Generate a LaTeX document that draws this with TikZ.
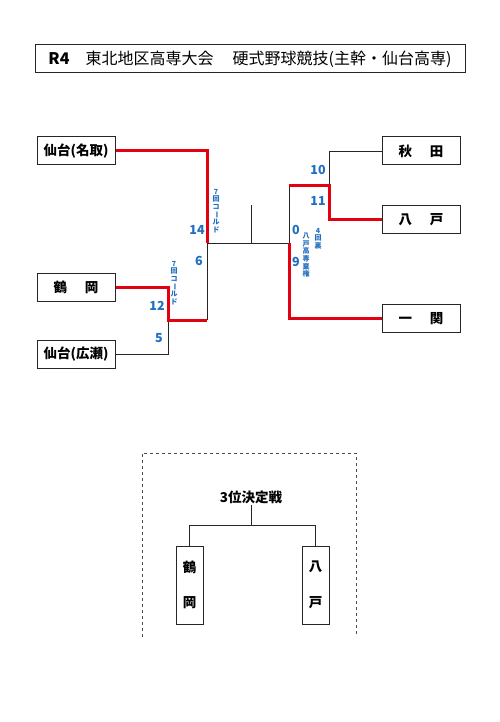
\documentclass[tikz,border=0pt]{standalone}
\usepackage{fontspec}
\setmainfont{Noto Sans CJK JP}
\definecolor{wred}{HTML}{E30010}
\definecolor{sblue}{HTML}{1F6FC0}
\begin{document}
\begin{tikzpicture}[x=1pt,y=-1pt,
  team/.style={draw=black!85,line width=1pt,minimum width=78pt,minimum height=28pt,inner sep=0pt,font=\bfseries\fontsize{13.5}{13.5}\selectfont},
  vbox/.style={draw=black!85,line width=1pt,minimum width=27pt,minimum height=78pt,inner sep=0pt,align=center,font=\bfseries\fontsize{13.5}{13.5}\selectfont},
  wire/.style={draw=black!85,line width=0.9pt},
  win/.style={draw=wred,line width=3pt},
  score/.style={text=sblue,font=\bfseries\fontsize{12.5}{12.5}\selectfont,inner sep=0pt},
  vtext/.style={text=sblue,font=\bfseries\fontsize{7}{7.6}\selectfont,align=center,inner sep=0pt,anchor=north}]
\useasboundingbox (0,0) rectangle (500,722);
\fill[white] (0,0) rectangle (500,722);
% title
\node[draw=black!85,line width=1pt,minimum width=430pt,minimum height=28pt,inner sep=0pt,font=\fontsize{16}{16}\selectfont] (title) at (250,59)
  {\textbf{R4}\hspace{1em}東北地区高専大会\hspace{1.2em}硬式野球競技(主幹・仙台高専)};
% teams
\node[team] (nat) at (76,151) {仙台(名取)};
\node[team] (tsu) at (76,287) {鶴\hspace{1.3em}岡};
\node[team] (hir) at (76,354.5) {仙台(広瀬)};
\node[team] (aki) at (421,151) {秋\hspace{1.3em}田};
\node[team] (hac) at (421,219.5) {八\hspace{1.3em}戸};
\node[team] (ich) at (421,318.5) {一\hspace{1.3em}関};
% bracket points
\coordinate (L1) at (207,151);
\coordinate (L2) at (207,243);
\coordinate (L3) at (207,320);
\coordinate (M1) at (168,287);
\coordinate (M2) at (168,320);
\coordinate (M3) at (168,354.5);
\coordinate (C) at (251,243);
\coordinate (Ctop) at (251,205);
\coordinate (R1) at (289,185);
\coordinate (R2) at (289,243);
\coordinate (R3) at (289,318.5);
\coordinate (Q1) at (329,151);
\coordinate (Q2) at (329,185);
\coordinate (Q3) at (329,219.5);
% black wires
\draw[wire] (L2) -- (R2);
\draw[wire] (Ctop) -- (C);
\draw[wire] (L2) -- (L3);
\draw[wire] (M2) -- (M3) -- (hir.east);
\draw[wire] (aki.west) -- (Q1) -- (Q2);
\draw[wire] (R1) -- (R2);
% winners
\draw[win] (nat.east) -- (L1) -- (L2);
\draw[win] (tsu.east) -- (M1) -- (M2) -- (L3);
\draw[win] (R1) -- (Q2) -- (Q3) -- (hac.west);
\draw[win] (R2) -- (R3) -- (ich.west);
% scores
\node[score] (s14) at (197,230) {14};
\node[score] (s6) at (199,261) {6};
\node[score] (s12) at (157,306) {12};
\node[score] (s5) at (159,338) {5};
\node[score] (s10) at (318,170) {10};
\node[score] (s11) at (318,201) {11};
\node[score] (s0) at (296,230) {0};
\node[score] (s9) at (296,262) {9};
% notes
\node[vtext] (n1) at (216,189) {7\\回\\コ\\\rotatebox[origin=c]{-90}{ー}\\ル\\ド};
\node[vtext] (n2) at (174,261) {7\\回\\コ\\\rotatebox[origin=c]{-90}{ー}\\ル\\ド};
\node[vtext] (n3) at (318,228) {4\\回\\裏};
\node[vtext] (n4) at (306,233) {八\\戸\\高\\専\\棄\\権};
% third place
\draw[draw=black!70,line width=0.9pt,dashed] (142,637) -- (142,453) -- (356,453) -- (356,637);
\node[font=\bfseries\fontsize{13.5}{13.5}\selectfont,inner sep=1pt] (third) at (251,497) {3位決定戦};
\node[vbox] (vt) at (189.5,585) {鶴\\[22pt]岡};
\node[vbox] (vh) at (315.5,585) {八\\[22pt]戸};
\coordinate (T) at (251,526);
\draw[wire] (third.south) -- (T);
\draw[wire] (vt.north) -- ++(0,-20) -| (vh.north);
\end{tikzpicture}
\end{document}
